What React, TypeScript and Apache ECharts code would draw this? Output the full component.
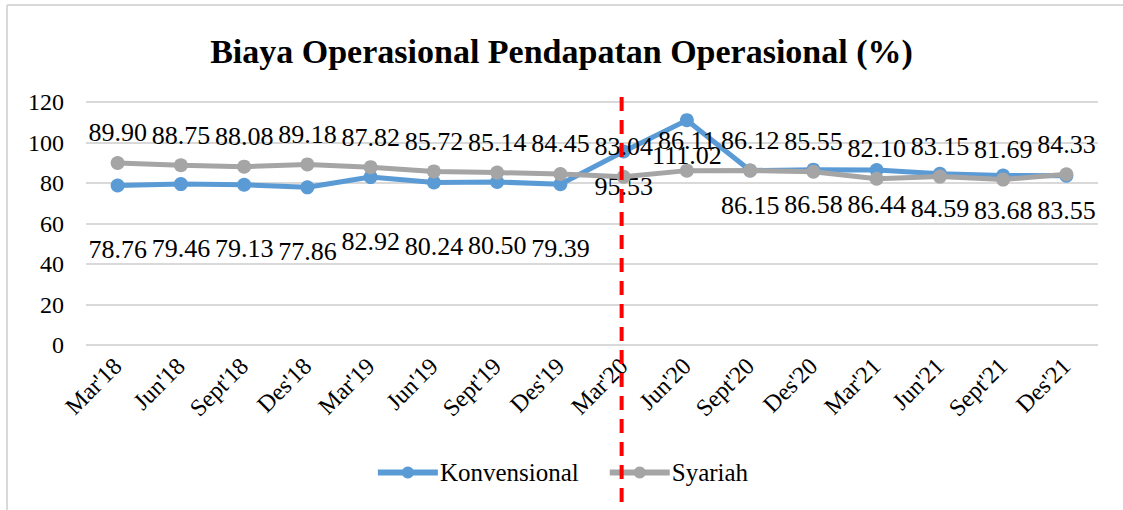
import React, { useEffect, useRef } from "react";
import * as echarts from "echarts";

const categories = ["Mar'18", "Jun'18", "Sept'18", "Des'18", "Mar'19", "Jun'19", "Sept'19", "Des'19", "Mar'20", "Jun'20", "Sept'20", "Des'20", "Mar'21", "Jun'21", "Sept'21", "Des'21"];
const konvensional = [78.76, 79.46, 79.13, 77.86, 82.92, 80.24, 80.5, 79.39, 95.53, 111.02, 86.15, 86.58, 86.44, 84.59, 83.68, 83.55];
const syariah = [89.9, 88.75, 88.08, 89.18, 87.82, 85.72, 85.14, 84.45, 83.04, 86.11, 86.12, 85.55, 82.1, 83.15, 81.69, 84.33];
const yTicks = [0, 20, 40, 60, 80, 100, 120];
const markerCategory = "Mar'20";

const FONT = "Liberation Serif, Times New Roman, serif";

export default function App() {
  const ref = useRef<HTMLDivElement>(null);
  useEffect(() => {
    if (!ref.current) return;
    const chart = echarts.init(ref.current, null, { renderer: "svg" });
    const konvData = konvensional.map((v, i) => ({
      value: v,
      label: { distance: i < 8 ? 44 : 15 },
    }));
    chart.setOption({
      animation: false,
      backgroundColor: "#fff",
      textStyle: { fontFamily: FONT },
      title: {
        text: "Biaya Operasional Pendapatan Operasional (%)",
        left: "center",
        top: 29,
        textStyle: { fontFamily: FONT, fontSize: 34, fontWeight: "bold", color: "#000" },
      },
      grid: { left: 86, right: 25, top: 102, bottom: 165, containLabel: false },
      legend: {
        bottom: 20,
        left: "center",
        itemWidth: 60,
        itemHeight: 15,
        itemGap: 28,
        lineStyle: { width: 6 },
        textStyle: { fontFamily: FONT, fontSize: 25, color: "#000", padding: [0, 0, 0, -3] },
        data: ["Konvensional", "Syariah"],
      },
      xAxis: {
        type: "category",
        data: categories,
        boundaryGap: true,
        axisLine: { show: false },
        axisTick: { show: false },
        axisLabel: { rotate: 45, fontFamily: FONT, fontSize: 24, color: "#000", margin: 17, interval: 0 },
      },
      yAxis: {
        type: "value",
        min: yTicks[0],
        max: yTicks[yTicks.length - 1],
        interval: 20,
        axisLine: { show: false },
        axisTick: { show: false },
        axisLabel: { fontFamily: FONT, fontSize: 24, color: "#000", margin: 22 },
        splitLine: { lineStyle: { color: "#d9d9d9", width: 2 } },
      },
      series: [
        {
          name: "Konvensional",
          type: "line",
          data: konvData,
          symbol: "circle",
          symbolSize: 14,
          itemStyle: { color: "#5b9bd5" },
          lineStyle: { color: "#5b9bd5", width: 5 },
          label: {
            show: true,
            position: "bottom",
            fontFamily: FONT,
            fontSize: 26,
            color: "#000",
            formatter: (p: any) => p.value.toFixed(2),
          },
          z: 3,
        },
        {
          name: "Syariah",
          type: "line",
          data: syariah,
          symbol: "circle",
          symbolSize: 14,
          itemStyle: { color: "#a5a5a5" },
          lineStyle: { color: "#a5a5a5", width: 5 },
          label: {
            show: true,
            position: "top",
            distance: 10,
            fontFamily: FONT,
            fontSize: 26,
            color: "#000",
            formatter: (p: any) => p.value.toFixed(2),
          },
          z: 4,
        },
      ],
    });
    const xPix = chart.convertToPixel({ xAxisIndex: 0 }, markerCategory) as number;
    chart.setOption({
      graphic: [
        {
          type: "line",
          shape: { x1: 7, y1: 5, x2: 1123, y2: 5 },
          style: { stroke: "#d9d9d9", lineWidth: 2 },
          silent: true,
        },
        {
          type: "line",
          shape: { x1: 7, y1: 5, x2: 7, y2: 510 },
          style: { stroke: "#d9d9d9", lineWidth: 2 },
          silent: true,
        },
        {
          type: "line",
          shape: { x1: xPix - 2, y1: 97, x2: xPix - 2, y2: 510 },
          style: { stroke: "#ff0000", lineWidth: 4, lineDash: [14, 9] },
          z: 100,
          silent: true,
        },
      ],
    });
    return () => chart.dispose();
  }, []);
  return <div ref={ref} style={{ width: 1123, height: 510, position: "absolute", left: 0, top: 0 }} />;
}
